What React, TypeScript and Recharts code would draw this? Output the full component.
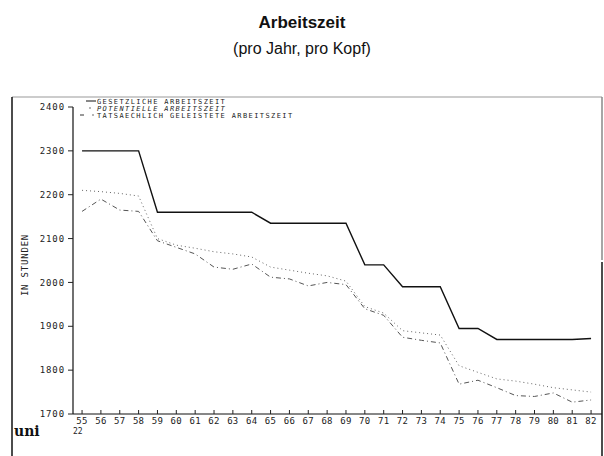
import { LineChart, Line, XAxis, YAxis } from "recharts";

// Jahre 1955 bis 1982
const years = [
  55, 56, 57, 58, 59, 60, 61, 62, 63, 64, 65, 66, 67, 68, 69, 70, 71, 72, 73, 74, 75, 76, 77, 78, 79, 80, 81, 82,
];

// Stunden pro Jahr und Kopf
const gesetzlich = [
  2300, 2300, 2300, 2300, 2160, 2160, 2160, 2160, 2160, 2160, 2135, 2135, 2135, 2135, 2135, 2040, 2040, 1990, 1990,
  1990, 1895, 1895, 1870, 1870, 1870, 1870, 1870, 1872,
];
const potentiell = [
  2210, 2207, 2203, 2197, 2100, 2085, 2078, 2070, 2065, 2058, 2035, 2028, 2021, 2015, 2003, 1945, 1930, 1890, 1885,
  1880, 1810, 1795, 1780, 1775, 1768, 1760, 1755, 1750,
];
const tatsaechlich = [
  2162, 2190, 2165, 2162, 2095, 2080, 2065, 2035, 2030, 2042, 2012, 2008, 1992, 2000, 1995, 1940, 1925, 1875, 1868,
  1862, 1768, 1777, 1760, 1742, 1740, 1748, 1727, 1732,
];

const yTicks = [1700, 1800, 1900, 2000, 2100, 2200, 2300, 2400];

const legendRows = [
  "GESETZLICHE ARBEITSZEIT",
  "POTENTIELLE ARBEITSZEIT",
  "TATSAECHLICH GELEISTETE ARBEITSZEIT",
];

const data = years.map((year, i) => ({
  year,
  gesetzlich: gesetzlich[i],
  potentiell: potentiell[i],
  tatsaechlich: tatsaechlich[i],
}));

const MONO = "'DejaVu Sans Mono', 'Liberation Mono', monospace";

function YearTick({ x = 0, y = 0, payload }: { x?: number; y?: number; payload?: { value: number } }) {
  return (
    <g>
      <line x1={x} x2={x} y1={y} y2={y - 4} stroke="#222" strokeWidth={1} />
      <text x={x} y={y + 10} textAnchor="middle" fontFamily={MONO} fontSize={9} letterSpacing={0.3} fill="#222">
        {payload?.value}
      </text>
    </g>
  );
}

function Overlay() {
  return (
    <svg width={604} height={456} style={{ position: "absolute", left: 0, top: 0, pointerEvents: "none" }}>
      <text x={302} y={28} textAnchor="middle" fontFamily="'Liberation Sans', Arial, sans-serif" fontWeight="bold" fontSize={17} fill="#111">
        Arbeitszeit
      </text>
      <text x={302} y={54} textAnchor="middle" fontFamily="'Liberation Sans', Arial, sans-serif" fontSize={16} fill="#111">
        (pro Jahr, pro Kopf)
      </text>

      {/* Rahmen */}
      <line x1={12} x2={602} y1={97} y2={97} stroke="#999" strokeWidth={1} />
      <line x1={12} x2={12} y1={97} y2={456} stroke="#111" strokeWidth={1.5} />
      <line x1={602} x2={602} y1={97} y2={260} stroke="#888" strokeWidth={1.5} />
      <line x1={602} x2={602} y1={262} y2={456} stroke="#111" strokeWidth={1.5} />

      {/* Legende */}
      <line x1={86} x2={96} y1={101} y2={101} stroke="#111" strokeWidth={1} />
      <circle cx={90} cy={108} r={0.7} fill="#333" />
      <line x1={80} x2={84} y1={115} y2={115} stroke="#333" strokeWidth={1} />
      <circle cx={93} cy={115} r={0.7} fill="#333" />
      {legendRows.map((row, i) => (
        <text
          key={row}
          x={97}
          y={104 + i * 7}
          fontFamily={MONO}
          fontSize={7}
          letterSpacing={1.4}
          fontStyle={i === 1 ? "italic" : "normal"}
          fill="#222"
        >
          {row}
        </text>
      ))}

      <text x={28} y={265} transform="rotate(-90 28 265)" textAnchor="middle" fontFamily={MONO} fontSize={9} letterSpacing={0.8} fill="#222">
        IN STUNDEN
      </text>

      <text x={14} y={436} fontFamily="'DejaVu Serif', serif" fontWeight="bold" fontSize={14} fill="#111">
        uni
      </text>
      <text x={73} y={434} fontFamily={MONO} fontSize={8} fill="#222">
        22
      </text>
    </svg>
  );
}

export default function App() {
  return (
    <div style={{ position: "absolute", left: 0, top: 0, width: 604, height: 456, background: "#fff" }}>
      <LineChart width={604} height={456} data={data} margin={{ top: 107, right: 2, bottom: 0, left: 0 }}>
        <XAxis
          type="number"
          dataKey="year"
          domain={[54.52, 82.58]}
          ticks={years}
          interval={0}
          allowDataOverflow
          height={42}
          tickLine={false}
          tickSize={0}
          tickMargin={0}
          axisLine={{ stroke: "#111", strokeWidth: 1.2 }}
          tick={<YearTick />}
        />
        <YAxis
          type="number"
          domain={[1700, 2400]}
          ticks={yTicks}
          interval={0}
          width={73}
          tickSize={5}
          tickMargin={3}
          axisLine={{ stroke: "#111", strokeWidth: 1.2 }}
          tickLine={{ stroke: "#222" }}
          tick={{ fontFamily: MONO, fontSize: 9, fill: "#222", letterSpacing: 0.9 }}
        />
        <Line
          dataKey="gesetzlich"
          type="linear"
          stroke="#111"
          strokeWidth={1.4}
          dot={false}
          isAnimationActive={false}
        />
        <Line
          dataKey="potentiell"
          type="linear"
          stroke="#666"
          strokeWidth={1}
          strokeDasharray="1 3"
          dot={false}
          isAnimationActive={false}
        />
        <Line
          dataKey="tatsaechlich"
          type="linear"
          stroke="#555"
          strokeWidth={1}
          strokeDasharray="5 3 1 3"
          dot={false}
          isAnimationActive={false}
        />
      </LineChart>
      <Overlay />
    </div>
  );
}
